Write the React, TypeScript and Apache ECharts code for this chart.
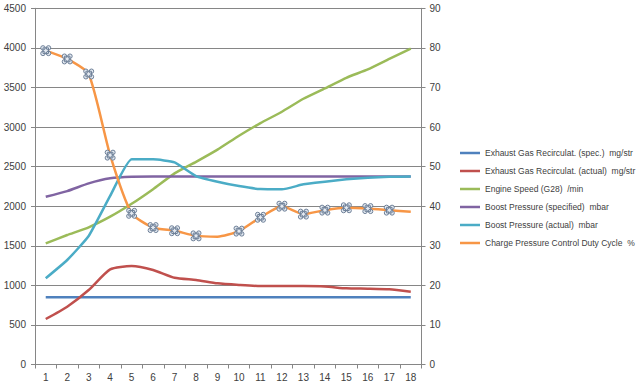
import React, { useEffect, useRef } from "react";
import * as echarts from "echarts";

const categories = ["1", "2", "3", "4", "5", "6", "7", "8", "9", "10", "11", "12", "13", "14", "15", "16", "17", "18"];

const seriesNames = [
  "Exhaust Gas Recirculat. (spec.)  mg/str",
  "Exhaust Gas Recirculat. (actual)  mg/str",
  "Engine Speed (G28)  /min",
  "Boost Pressure (specified)  mbar",
  "Boost Pressure (actual)  mbar",
  "Charge Pressure Control Duty Cycle  %",
];

const egrSpec = [850, 850, 850, 850, 850, 850, 850, 850, 850, 850, 850, 850, 850, 850, 850, 850, 850, 850];
const egrActual = [575, 730, 941, 1202, 1244, 1194, 1096, 1067, 1025, 1005, 991, 991, 991, 986, 962, 958, 950, 920];
const engineSpeed = [1531, 1636, 1733, 1867, 2030, 2215, 2415, 2561, 2715, 2890, 3050, 3193, 3357, 3488, 3622, 3728, 3860, 3990];
const boostSpecified = [2119, 2191, 2288, 2352, 2372, 2374, 2374, 2374, 2374, 2374, 2374, 2374, 2374, 2374, 2374, 2374, 2374, 2374];
const boostActual = [1089, 1320, 1623, 2130, 2592, 2592, 2554, 2381, 2309, 2254, 2216, 2213, 2276, 2309, 2339, 2359, 2372, 2374];
const dutyCycle = [79.3, 77.2, 73.4, 52.9, 38.2, 34.6, 33.8, 32.5, 32.3, 33.7, 37.2, 40.0, 38.0, 39.0, 39.6, 39.4, 39.0, 38.6];
const dutyMarkerShown = [true, true, true, true, true, true, true, true, false, true, true, true, true, true, true, true, true, false];

const leftTicks = { min: 0, max: 4500, interval: 500 };
const rightTicks = { min: 0, max: 90, interval: 10 };

const colors = ["#4F81BD", "#C0504D", "#9BBB59", "#8064A2", "#4BACC6", "#F79646"];

const MARK =
  "path://M4.5,2.5 A2,2 0 1,1 0.5,2.5 A2,2 0 1,1 4.5,2.5 Z M9.5,2.5 A2,2 0 1,1 5.5,2.5 A2,2 0 1,1 9.5,2.5 Z M4.5,7.5 A2,2 0 1,1 0.5,7.5 A2,2 0 1,1 4.5,7.5 Z M9.5,7.5 A2,2 0 1,1 5.5,7.5 A2,2 0 1,1 9.5,7.5 Z M2.5,2.5 L7.5,2.5 L7.5,7.5 L2.5,7.5 Z";

const FONT = "'Liberation Sans', Arial, sans-serif";

export default function App() {
  const ref = useRef<HTMLDivElement>(null);

  useEffect(() => {
    if (!ref.current) return;
    const chart = echarts.init(ref.current, undefined, { renderer: "svg" });
    const axisLine = { show: true, lineStyle: { color: "#868686", width: 1 } };
    const axisLabel = { color: "#404040", fontSize: 10, fontFamily: FONT, formatter: (v: any) => String(v) };
    const lineSeries = (i: number, data: any[], yAxisIndex: number, smooth: number | boolean) => ({
      name: seriesNames[i],
      type: "line",
      yAxisIndex,
      data,
      smooth,
      showSymbol: false,
      symbol: "none",
      lineStyle: { color: colors[i], width: 2.5 },
      itemStyle: { color: colors[i] },
      z: 2 + i,
    });
    const dutyData = dutyCycle.map((v, i) => ({
      value: v,
      symbol: dutyMarkerShown[i] ? MARK : "none",
    }));
    chart.setOption({
      animation: false,
      backgroundColor: "#ffffff",
      color: colors,
      grid: { left: 35, right: 218.5, top: 8.3, bottom: 22.5 },
      legend: {
        orient: "vertical",
        left: 455,
        top: 142,
        itemWidth: 20,
        itemHeight: 2.5,
        itemGap: 6,
        icon: "rect",
        data: seriesNames.map((n, i) => ({
          name: n,
          itemStyle: { color: colors[i], borderWidth: 0, borderColor: colors[i] },
        })),
        textStyle: {
          color: "#404040",
          fontSize: 8.5,
          fontFamily: FONT,
          lineHeight: 12,
        },
      },
      xAxis: {
        type: "category",
        data: categories,
        boundaryGap: true,
        axisLine,
        axisTick: { show: true, length: 4, lineStyle: { color: "#868686" } },
        axisLabel: { color: "#404040", fontSize: 10, fontFamily: FONT, margin: 8 },
        splitLine: { show: false },
      },
      yAxis: [
        {
          type: "value",
          ...leftTicks,
          axisLine,
          axisTick: { show: true, length: 4, lineStyle: { color: "#868686" } },
          axisLabel: { ...axisLabel, margin: 9 },
          splitLine: { show: true, lineStyle: { color: "#868686", width: 1 } },
        },
        {
          type: "value",
          position: "right",
          ...rightTicks,
          axisLine,
          axisTick: { show: true, length: 4, lineStyle: { color: "#868686" } },
          axisLabel: { ...axisLabel, margin: 8 },
          splitLine: { show: false },
        },
      ],
      series: [
        lineSeries(0, egrSpec, 0, false),
        lineSeries(1, egrActual, 0, 0.2),
        lineSeries(2, engineSpeed, 0, 0.15),
        lineSeries(3, boostSpecified, 0, 0.2),
        lineSeries(4, boostActual, 0, 0.15),
        {
          name: seriesNames[5],
          type: "line",
          yAxisIndex: 1,
          data: dutyData,
          smooth: 0.2,
          showSymbol: true,
          symbolSize: 10,
          lineStyle: { color: colors[5], width: 2.5 },
          itemStyle: { color: "#E4EAF2", borderColor: "#6E8098", borderWidth: 1 },
          z: 10,
        },
      ],
    });
    return () => chart.dispose();
  }, []);

  return (
    <div
      ref={ref}
      style={{ position: "fixed", left: 0, top: 0, width: 640, height: 387, background: "#fff" }}
    />
  );
}
